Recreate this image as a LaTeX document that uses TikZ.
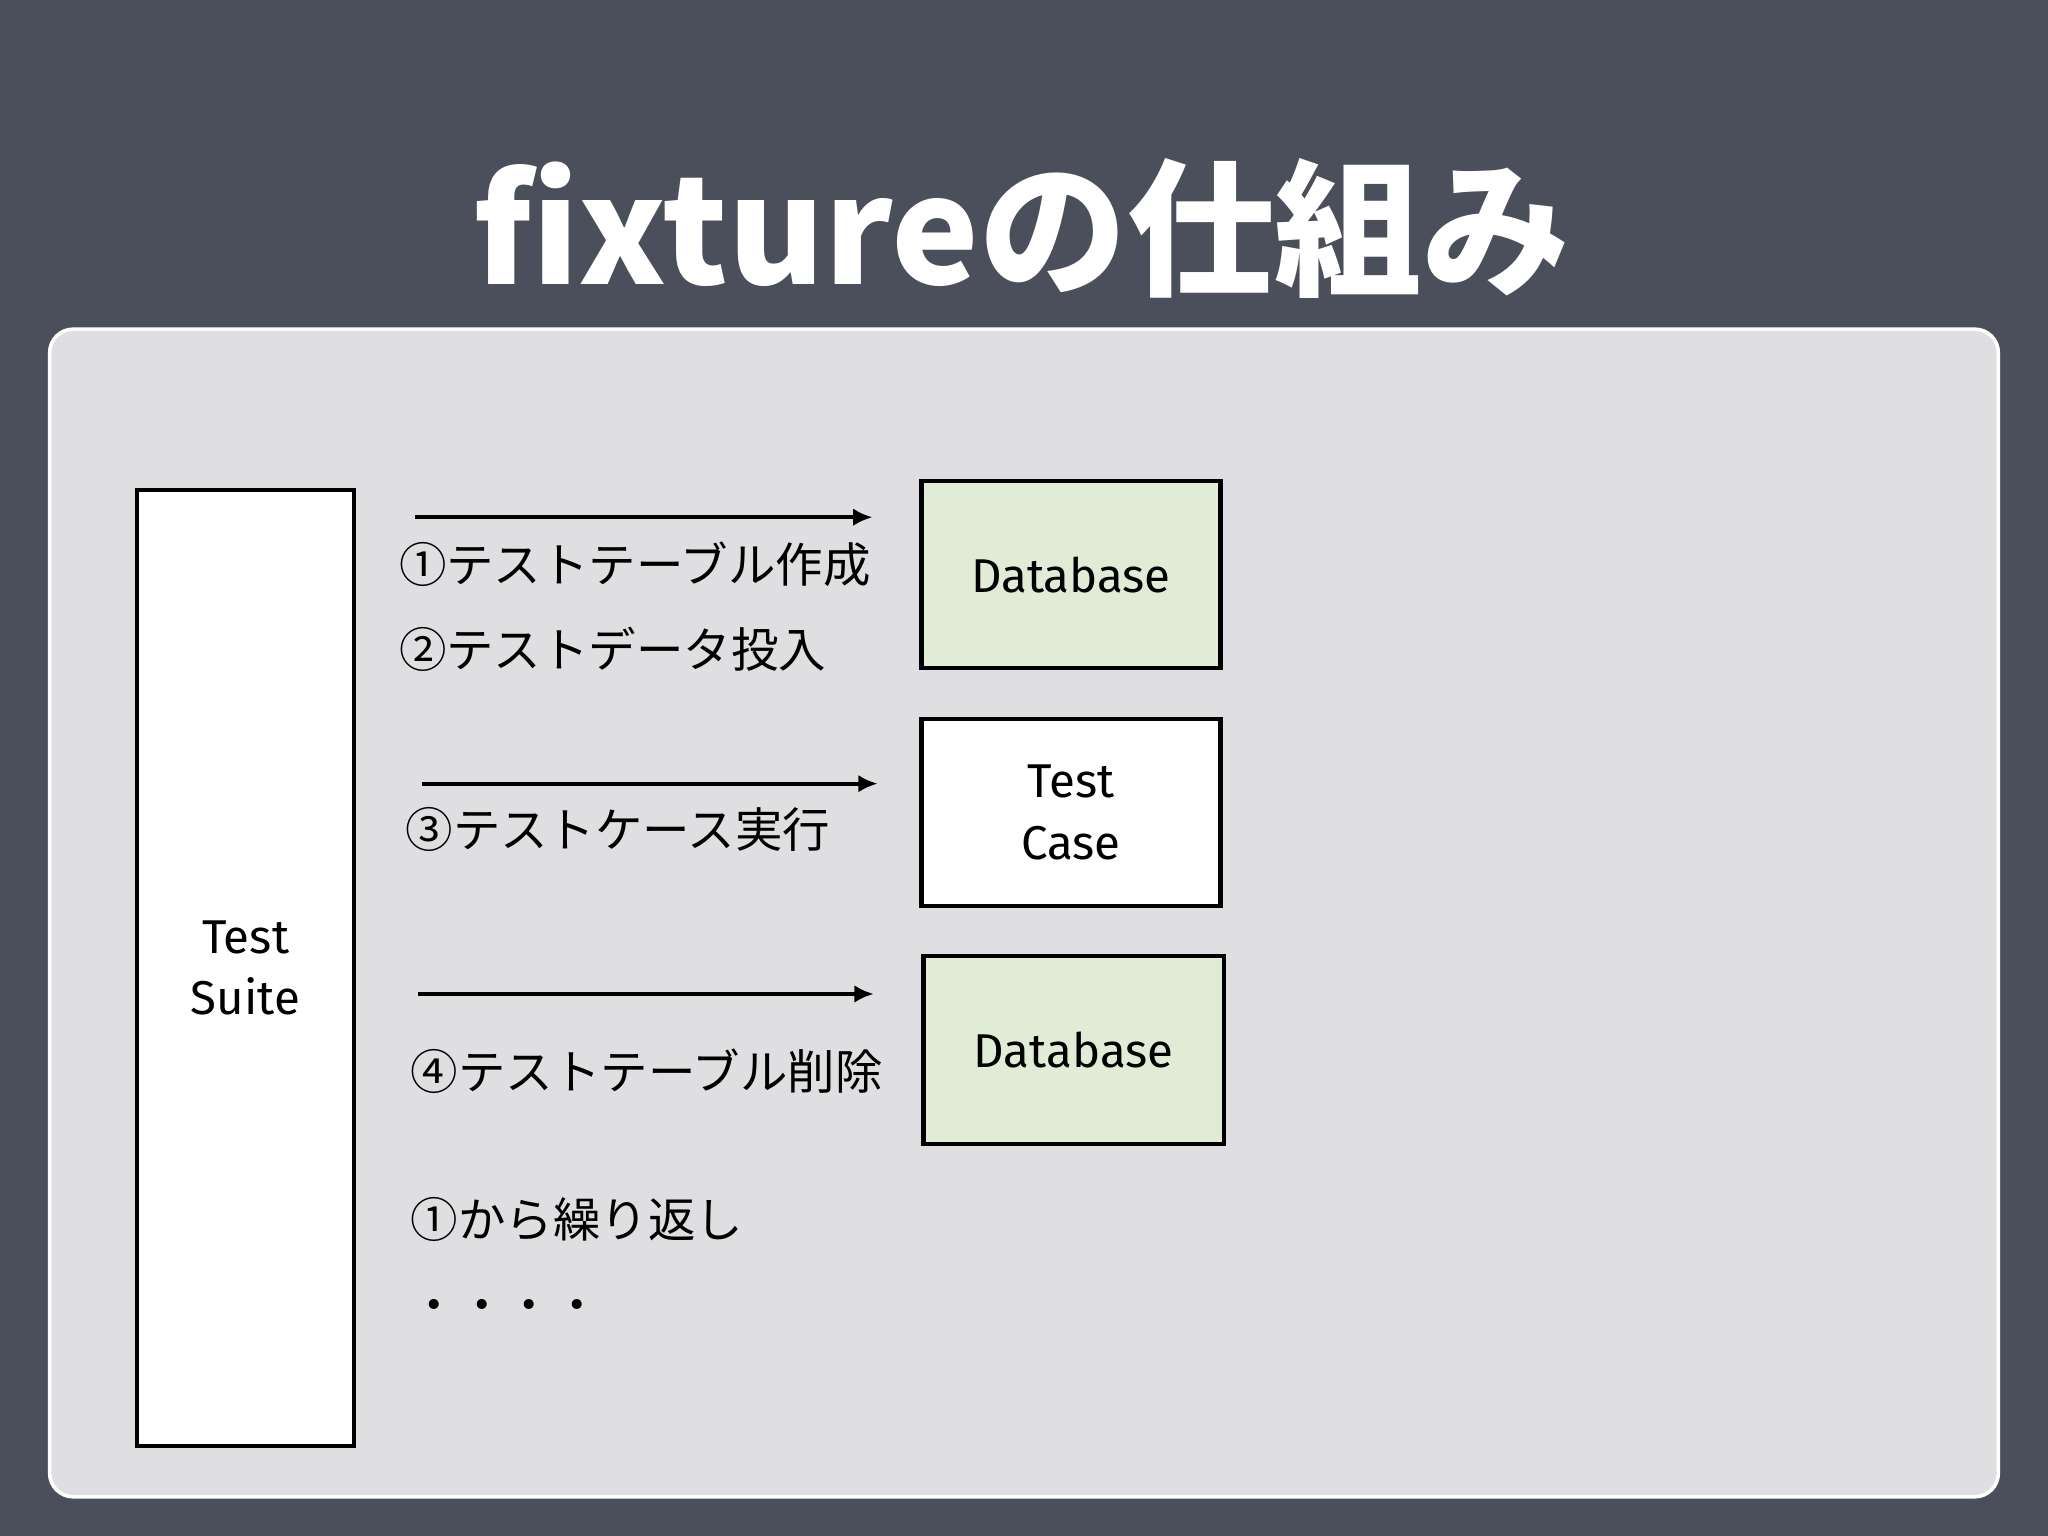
\documentclass[tikz,border=0pt]{standalone}
\usepackage{fontspec}
\setmainfont{Noto Sans CJK JP}
\newfontfamily\boxfont{Fira Sans}
\usepackage{tikz}
\usetikzlibrary{arrows.meta}

\definecolor{board}{RGB}{75,79,91}
\definecolor{panel}{RGB}{223,222,225}
\definecolor{dbgreen}{RGB}{224,236,213}
\def\unit{0.0130612}

\begin{document}
\begin{tikzpicture}[x=\unit cm, y=-\unit cm,
  box/.style={draw=black, line width=1.2pt, fill=white, inner sep=0, align=center,
    font=\boxfont\fontsize{13.5}{17.5}\selectfont},
  jp/.style={anchor=west, inner sep=0, font=\fontsize{13.5}{16}\selectfont},
  flow/.style={line width=1.2pt, -{Latex[length=5.5pt, width=5pt]}}]
\useasboundingbox (0,0) rectangle (1568,1176);
\fill[board] (0,0) rectangle (1568,1176);
\node[text=white, font=\bfseries\fontsize{42}{50}\selectfont] (title) at (782,175) {fixtureの仕組み};
\draw[draw=white, line width=1pt, fill=panel, rounded corners=6.7pt] (38,252) rectangle (1530,1146);

% boxes
\node[box, minimum width=166*\unit cm, minimum height=732*\unit cm] (suite) at (188,741) {Test\\Suite};
\node[box, fill=dbgreen, minimum width=229*\unit cm, minimum height=143*\unit cm] (db1) at (820,440) {Database};
\node[box, minimum width=229*\unit cm, minimum height=143*\unit cm] (case) at (820,622) {Test\\Case};
\node[box, fill=dbgreen, minimum width=230*\unit cm, minimum height=144*\unit cm] (db2) at (822,804) {Database};

% arrows
\coordinate (a1) at (318,396); \coordinate (b1) at (668,396);
\coordinate (a2) at (323,600); \coordinate (b2) at (672,600);
\coordinate (a3) at (320,761); \coordinate (b3) at (669,761);
\draw[flow] (a1) -- (b1);
\draw[flow] (a2) -- (b2);
\draw[flow] (a3) -- (b3);

% steps
\node[jp] (create) at (305,432) {①テストテーブル作成};
\node[jp] (insert) at (305,497) {②テストデータ投入};
\node[jp] (run) at (310,635) {③テストケース実行};
\node[jp] (drop) at (314,820) {④テストテーブル削除};
\node[jp] (again) at (314,934) {①から繰り返し};
\node[jp] (dots) at (314,1004) {・・・・};
\end{tikzpicture}
\end{document}
